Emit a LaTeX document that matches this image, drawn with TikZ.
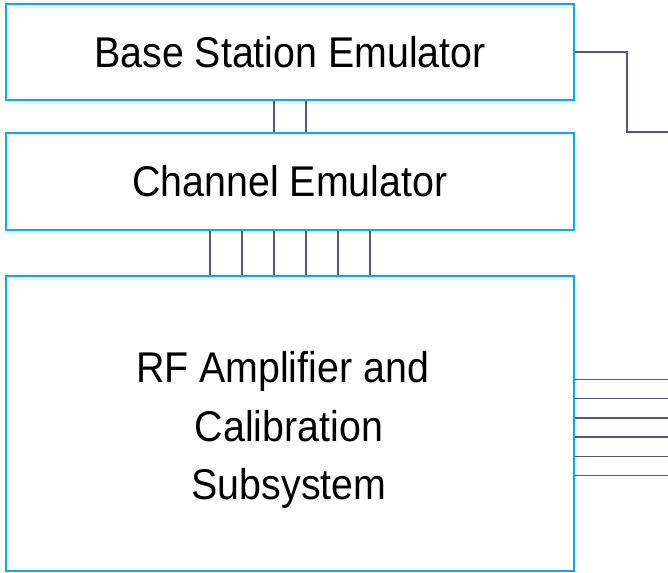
\documentclass[tikz,border=0pt]{standalone}
\usepackage{fontspec}
\setmainfont{Liberation Sans}[FakeStretch=0.915]
\usetikzlibrary{
	positioning
}
\definecolor{boxblue}{RGB}{0,176,240}
\definecolor{wireblue}{RGB}{85,85,140}
\newcommand{\wire}[3][]{
	\draw[wire,#1] (#2) -- (#3);
}
\tikzset{block/.style={
	draw=boxblue,
	rectangle,
	line width=2pt,
	minimum width=568pt,
	inner sep=0pt,
	align=center,
	font=\fontsize{43}{58.5}\selectfont,
}}
\tikzset{
	wire/.style={
		draw=wireblue
		,line width=1.4pt
	}
	,blocktext/.style={
		inner sep=0pt
		,align=center
		,font=\fontsize{43}{58.5}\selectfont
	}
}

\begin{document}
\begin{tikzpicture}[x=1pt,y=-1pt]
        \useasboundingbox (0,0) rectangle (668,572);
        \node[block,minimum height=96pt](bse) at(290,52){Base Station Emulator};
        \node[block,minimum height=97pt](ce) at(290,181.5){Channel Emulator};
        \node[block,minimum height=295pt](rf) at(290,423.5){};
        \node[blocktext](rftext) at(289,430){RF Amplifier and\hspace*{13pt}\\Calibration\\Subsystem};
        
        \foreach \x in{274,306}{
            \wire{bse.south -| \x,0}{ce.north -| \x,0};
        }
        \foreach \x in{210,242,274,306,338,370}{
            \wire{ce.south -| \x,0}{rf.north -| \x,0};
        }
        
        \coordinate (bseout) at (668,132);
        \draw[wire] (bse.east) -- ++(52,0) |- (bseout);
        
        \foreach \i/\y in{
            1/379.3,2/398.7,3/418,4/437,5/456.3,6/475.7%
        }{
            \coordinate (rfout\i) at (668,\y);
            \wire{rf.east |- rfout\i}{rfout\i};
        }
                
        \end{tikzpicture}
\end{document}
